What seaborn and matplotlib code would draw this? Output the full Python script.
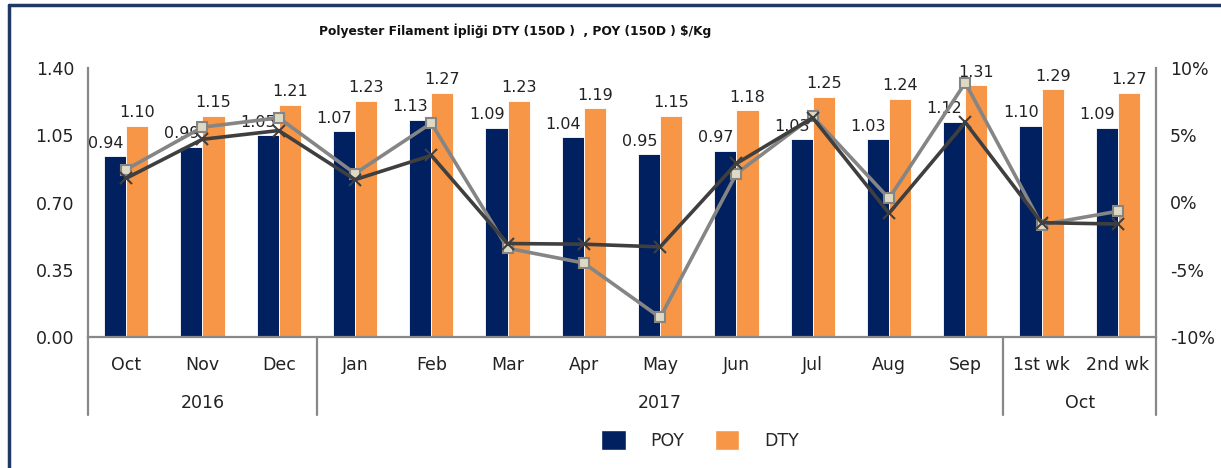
import numpy as np
import pandas as pd
import matplotlib
matplotlib.use('Agg')
import matplotlib.pyplot as plt
import seaborn as sns
from matplotlib.lines import Line2D
from matplotlib.patches import Patch
import matplotlib.transforms as mtransforms

# ================= 数据 =================
months = ['Oct', 'Nov', 'Dec', 'Jan', 'Feb', 'Mar', 'Apr', 'May', 'Jun', 'Jul', 'Aug', 'Sep', '1st wk', '2nd wk']
groups = ['2016', '2017', 'Oct']
group_bounds = [(-0.5, 2.5), (2.5, 11.5), (11.5, 13.5)]

poy = [0.94, 0.99, 1.05, 1.07, 1.13, 1.09, 1.04, 0.95, 0.97, 1.03, 1.03, 1.12, 1.10, 1.09]
dty = [1.10, 1.15, 1.21, 1.23, 1.27, 1.23, 1.19, 1.15, 1.18, 1.25, 1.24, 1.31, 1.29, 1.27]

# 右轴百分比变化
chg_dark = [1.8, 4.7, 5.35, 1.7, 3.5, -3.05, -3.1, -3.3, 2.9, 6.3, -0.8, 5.95, -1.5, -1.6]
chg_gray = [2.45, 5.6, 6.3, 2.15, 5.9, -3.4, -4.5, -8.55, 2.15, 6.4, 0.3, 8.9, -1.65, -0.65]

left_ticks = [0.00, 0.35, 0.70, 1.05, 1.40]
right_ticks = [-10, -5, 0, 5, 10]

title = 'Polyester Filament İpliği DTY (150D )  , POY (150D ) $/Kg'

C_POY = '#002060'
C_DTY = '#F79646'
C_DARK = '#3F3F3F'
C_GRAY = '#858585'
C_AXIS = '#888888'

# ================= 配置 =================
sns.set_style('white')
plt.rcParams['font.family'] = ['DejaVu Sans']

df = pd.DataFrame({
    'month': months * 2,
    'value': poy + dty,
    'series': ['POY'] * len(months) + ['DTY'] * len(months),
})

fig = plt.figure(figsize=(12.21, 4.68), dpi=100)
ax = fig.add_axes([88 / 1221, 131 / 468, (1156 - 88) / 1221, 269 / 468])

sns.barplot(data=df, x='month', y='value', hue='series', order=months,
            hue_order=['POY', 'DTY'], palette=[C_POY, C_DTY], width=0.58,
            gap=0, saturation=1, edgecolor='white', linewidth=0.6,
            legend=False, ax=ax)

# POY 标签略向左偏 (避免与折线重叠)
for cont, dx in zip(ax.containers, [-7, 0]):
    anns = ax.bar_label(cont, fmt='%.2f', padding=4, fontsize=11.5, color='#222222')
    for a in anns:
        a.xyann = (dx, 4)

ax.set_ylim(0, 1.40)
ax.set_xlim(-0.5, len(months) - 0.5)
ax.set_yticks(left_ticks)
ax.set_yticklabels([f'{v:.2f}' for v in left_ticks], fontsize=12.5, color='#222222')
ax.set_xticks(range(len(months)))
ax.set_xticklabels(months, fontsize=12.5, color='#222222')
ax.tick_params(axis='both', length=0)
ax.tick_params(axis='x', pad=14)
ax.tick_params(axis='y', pad=10)
ax.set_xlabel('')
ax.set_ylabel('')
for s in ['top', 'right']:
    ax.spines[s].set_visible(False)
for s in ['left', 'bottom']:
    ax.spines[s].set_color(C_AXIS)
    ax.spines[s].set_linewidth(1.6)

# --- 右轴：变化率 ---
ax2 = ax.twinx()
x_pos = np.arange(len(months))
sns.lineplot(x=x_pos, y=chg_gray, ax=ax2, color=C_GRAY, linewidth=2.6,
             marker='s', markersize=7.5, markerfacecolor='#DDD9C3',
             markeredgecolor=C_GRAY, markeredgewidth=1.5)
sns.lineplot(x=x_pos, y=chg_dark, ax=ax2, color=C_DARK, linewidth=2.6,
             marker='x', markersize=8, markeredgecolor=C_DARK, markeredgewidth=1.5)
ax2.set_ylim(-10, 10)
ax2.set_yticks(right_ticks)
ax2.set_yticklabels([f'{v}%' for v in right_ticks], fontsize=12.5, color='#222222')
ax2.tick_params(axis='y', length=0, pad=10)
ax2.set_ylabel('')
for s in ['top', 'left', 'bottom']:
    ax2.spines[s].set_visible(False)
ax2.spines['right'].set_color(C_AXIS)
ax2.spines['right'].set_linewidth(1.6)
ax2.set_xlim(-0.5, len(months) - 0.5)

# --- 分组标签和分隔线 ---
trans = mtransforms.blended_transform_factory(ax.transData, ax.transAxes)
for b in [-0.5, 2.5, 11.5, 13.5]:
    ax.add_line(Line2D([b, b], [0, -0.29], transform=trans, color=C_AXIS,
                       linewidth=1.6, clip_on=False))
for g, (a, b) in zip(groups, group_bounds):
    ax.text((a + b) / 2, -0.245, g, transform=trans, ha='center', va='center',
            fontsize=12.5, color='#222222')

# --- 图例 ---
handles = [Patch(facecolor=C_POY, label='POY'), Patch(facecolor=C_DTY, label='DTY')]
fig.legend(handles=handles, loc='center', bbox_to_anchor=(700 / 1221, 1 - 440 / 468),
           ncol=2, frameon=False, fontsize=12.5, handlelength=1.4, handleheight=1.4,
           columnspacing=1.8, handletextpad=1.4)

# --- 标题 ---
fig.text(515 / 1221, 1 - 31 / 468, title, ha='center', va='center',
         fontsize=8.8, fontweight='bold', color='#111111')

# --- 外框 ---
fig.add_artist(Line2D([9 / 1221, 1], [1 - 5 / 468, 1 - 5 / 468], transform=fig.transFigure,
                      color='#1F3864', linewidth=2.5))
fig.add_artist(Line2D([9 / 1221, 9 / 1221], [0, 1 - 5 / 468], transform=fig.transFigure,
                      color='#1F3864', linewidth=2.5))

fig.savefig('out.png', dpi=100)
